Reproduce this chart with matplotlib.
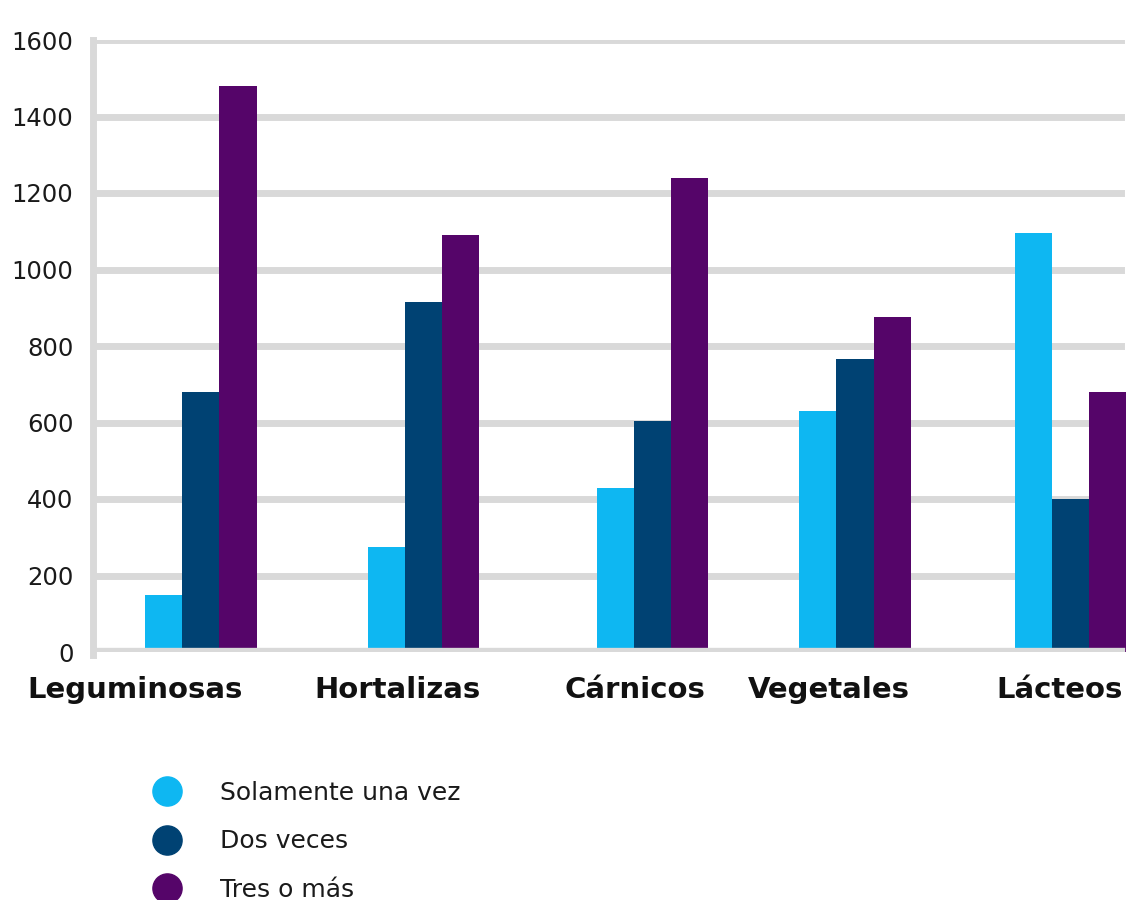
import matplotlib
matplotlib.use('Agg')
import matplotlib.pyplot as plt
from matplotlib.lines import Line2D
import numpy as np

# data
categorias = ['Leguminosas', 'Hortalizas', 'Cárnicos', 'Vegetales', 'Lácteos']
series     = ['Solamente una vez', 'Dos veces', 'Tres o más']
una_vez    = [150, 275, 430, 630, 1095]
dos_veces  = [680, 915, 605, 765, 400]
tres_mas   = [1480, 1090, 1240, 875, 680]
yticks     = [0, 200, 400, 600, 800, 1000, 1200, 1400, 1600]

colores = ['#0EB7F2', '#004273', '#550569']
grid_c  = '#D9D9D9'

# layout (groups are not evenly spaced in the original)
grupo_x = np.array([0, 1.02, 2.07, 3.0, 3.99])
label_x = np.array([-0.30, 0.90, 1.99, 2.88, 3.94])
ancho   = 0.17

fig = plt.figure(figsize=(11.26, 9), dpi=100)
ax = fig.add_axes([93/1126, 1 - 652/900, 1 - 93/1126, 612/900])

valores = [una_vez, dos_veces, tres_mas]
for i, (vals, col) in enumerate(zip(valores, colores)):
    ax.bar(grupo_x + (i - 1) * ancho, vals, width=ancho, color=col,
           zorder=2, linewidth=0)

ax.set_ylim(0, 1600)
ax.set_xlim(-0.495, 4.243)
ax.set_yticks(yticks)
ax.set_yticklabels([str(v) for v in yticks], fontsize=17.5, color='#1a1a1a')
ax.set_xticks(label_x)
ax.set_xticklabels(categorias, fontsize=21, fontweight='bold', color='#111111')
ax.tick_params(axis='y', length=0, pad=14)
ax.tick_params(axis='x', length=0, pad=17)

for v in yticks:
    ax.axhline(v, xmin=0, xmax=0.995, color=grid_c, linewidth=5, zorder=1)
ax.axhline(0, color=grid_c, linewidth=6, zorder=3, xmax=0.995)
for s in ['top', 'right', 'bottom']:
    ax.spines[s].set_visible(False)
ax.spines['left'].set_color(grid_c)
ax.spines['left'].set_linewidth(5)
ax.spines['left'].set_bounds(-8, 1600)

handles = [Line2D([0], [0], marker='o', linestyle='none', markersize=21,
                  markerfacecolor=c, markeredgecolor=c) for c in colores]
fig.legend(handles, series, loc='upper left', bbox_to_anchor=(152/1126, 1 - 781/900),
           frameon=False, fontsize=18, handlelength=1.2, handletextpad=1.5,
           labelspacing=0.98, borderpad=0, borderaxespad=0, labelcolor='#1a1a1a')

fig.savefig('out.png', dpi=100, facecolor='white')
